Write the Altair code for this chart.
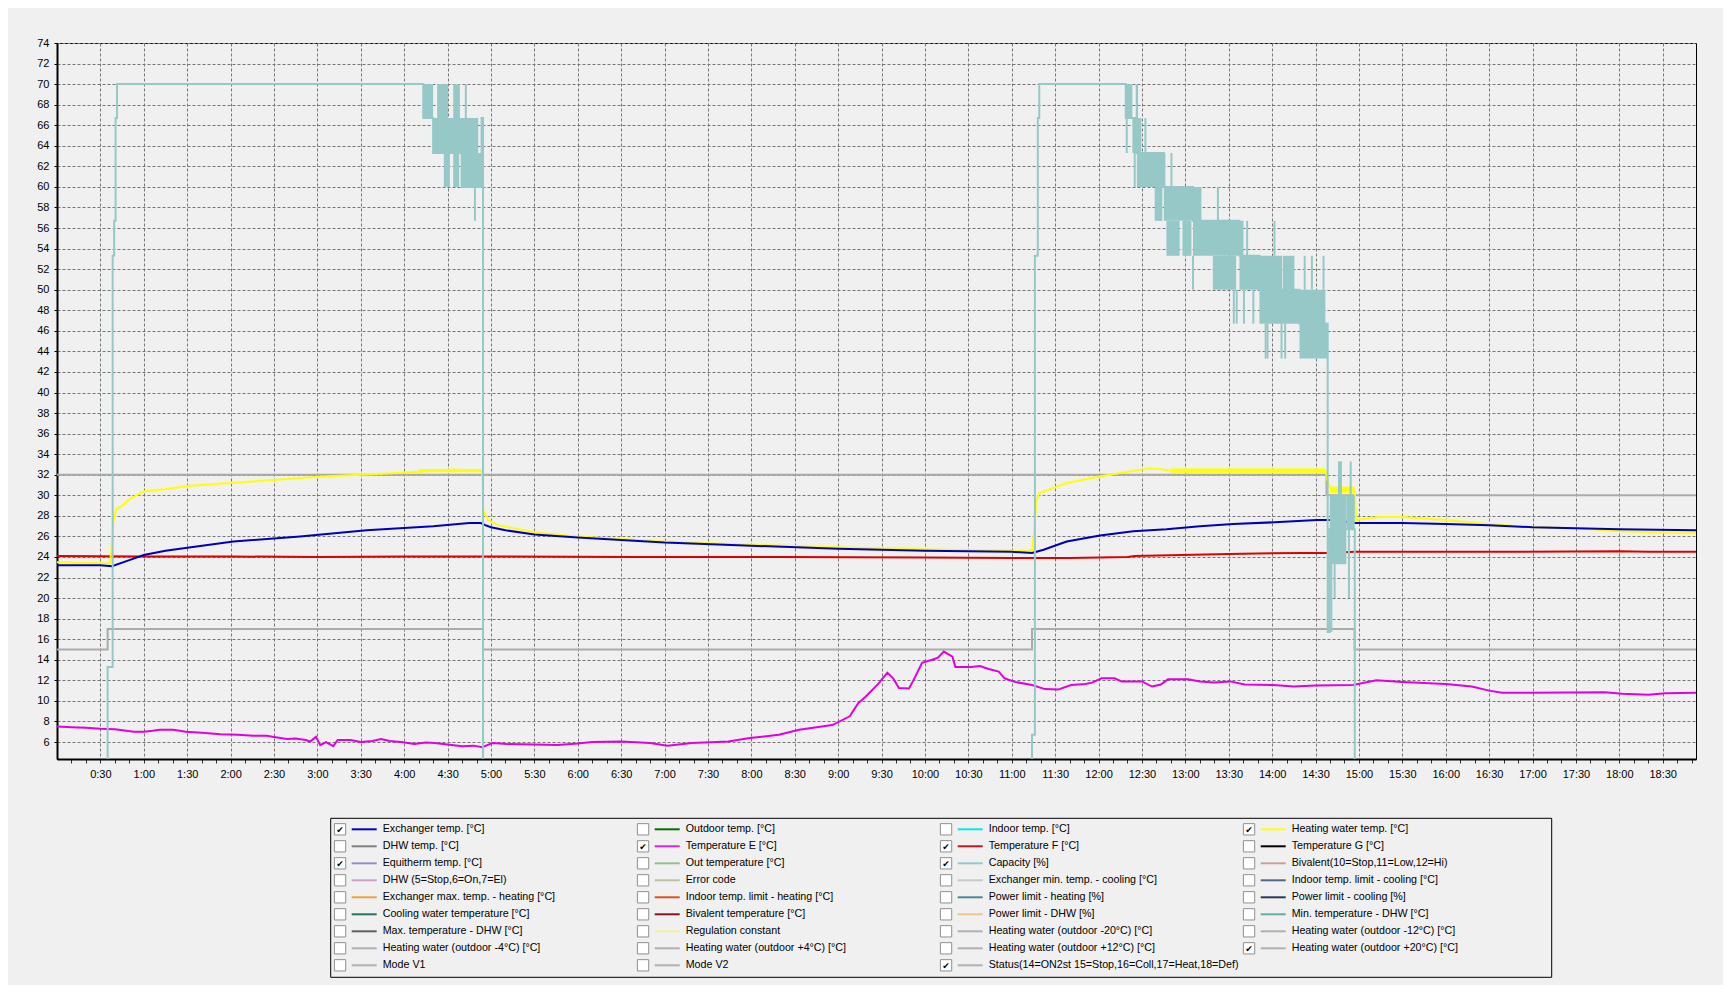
import altair as alt
import pandas as pd

# ---------------- data (time in minutes since 0:00) ----------------
# Exchanger temp. [°C]  (blue)
exch_t = [0, 30, 38, 50, 60, 75, 90, 122, 168, 214, 260, 285, 293, 296, 300, 310, 330, 360, 420, 480,
          540, 600, 660, 674, 682, 698, 721, 744, 767, 790, 813, 845, 871, 882, 897, 930, 960, 990,
          1020, 1050, 1080, 1133]
exch_v = [23.2, 23.2, 23.1, 23.7, 24.2, 24.6, 24.9, 25.5, 26.0, 26.6, 27.0, 27.3, 27.3, 27.1, 26.9, 26.6,
          26.2, 25.9, 25.4, 25.1, 24.8, 24.6, 24.5, 24.4, 24.7, 25.5, 26.1, 26.5, 26.7, 27.0, 27.2, 27.4,
          27.6, 27.6, 27.3, 27.3, 27.2, 27.1, 26.9, 26.8, 26.7, 26.6]

# Heating water temp. [°C]  (yellow)
heat_t = [0, 36.5, 37.5, 39, 41, 45, 50, 55, 60, 75, 90, 120, 150, 180, 210, 240, 260, 275, 285, 294,
          294.5, 298, 305, 330, 360, 420, 480, 540, 600, 660, 674, 675.5, 677, 679, 690, 698, 720, 740,
          755, 765, 770, 800, 840, 877, 878, 880, 885, 897, 898, 914, 930, 960, 990, 1020, 1050, 1080, 1133]
heat_v = [23.5, 23.4, 24.5, 27.5, 28.6, 29.0, 29.6, 30.0, 30.4, 30.6, 30.9, 31.2, 31.5, 31.8, 32.0, 32.2,
          32.4, 32.5, 32.4, 32.4, 28.6, 27.6, 27.1, 26.4, 26.0, 25.5, 25.2, 24.95, 24.75, 24.6, 24.6, 26.5,
          29.5, 30.2, 30.8, 31.2, 31.8, 32.3, 32.6, 32.5, 32.4, 32.4, 32.4, 32.4, 31.5, 30.8, 30.5, 30.5,
          27.6, 27.9, 27.9, 27.6, 27.2, 26.9, 26.8, 26.5, 26.3]
# noisy thick parts of the heating water trace: start, end, low, high
heat_band_t0 = [250, 770, 880]
heat_band_t1 = [294, 877, 897]
heat_band_lo = [32.25, 32.2, 30.25]
heat_band_hi = [32.55, 32.6, 30.85]

# Temperature F [°C]  (red)
tf_t = [0, 60, 120, 180, 240, 300, 400, 500, 600, 660, 700, 740, 745, 810, 860, 880, 897, 1000, 1080, 1100, 1133]
tf_v = [24.1, 24.05, 24.05, 24.0, 24.05, 24.05, 24.0, 24.0, 23.95, 23.9, 23.9, 24.0, 24.1, 24.3, 24.4,
        24.4, 24.5, 24.5, 24.55, 24.5, 24.5]

# Temperature E [°C]  (magenta)
te_t = [0, 10, 20, 30, 40, 48, 53, 60, 66, 71, 80, 85, 89, 100, 113, 125, 136, 145, 150, 159, 165, 172,
        175, 179, 182, 186, 191, 194, 203, 210, 218, 224, 230, 238, 247, 255, 261, 270, 280, 288, 294,
        301, 311, 330, 346, 360, 370, 390, 410, 422, 439, 464, 479, 499, 513, 536, 548, 554, 559, 568,
        574, 578, 582, 589, 592, 598, 605, 609, 613, 619, 621, 632, 638, 644, 651, 655, 662, 674, 683,
        692, 701, 711, 716, 722, 731, 736, 750, 757, 763, 768, 782, 790, 800, 811, 821, 841, 855, 870,
        896, 912, 930, 960, 978, 990, 999, 1020, 1070, 1082, 1100, 1112, 1133]
te_v = [7.5, 7.45, 7.4, 7.3, 7.25, 7.1, 7.0, 7.0, 7.1, 7.2, 7.2, 7.1, 7.0, 6.9, 6.75, 6.7, 6.6, 6.6, 6.5,
        6.3, 6.35, 6.2, 6.05, 6.5, 5.7, 6.0, 5.6, 6.2, 6.2, 6.0, 6.1, 6.3, 6.1, 6.0, 5.8, 5.95, 5.9, 5.75,
        5.6, 5.65, 5.5, 5.9, 5.8, 5.75, 5.7, 5.85, 6.0, 6.05, 5.9, 5.65, 5.9, 6.05, 6.4, 6.7, 7.2, 7.65,
        8.5, 9.8, 10.4, 11.7, 12.75, 12.2, 11.25, 11.2, 12.0, 13.7, 14.0, 14.2, 14.8, 14.3, 13.3, 13.3,
        13.4, 13.1, 12.85, 12.2, 11.85, 11.55, 11.15, 11.1, 11.55, 11.65, 11.8, 12.2, 12.2, 11.9, 11.9,
        11.4, 11.6, 12.1, 12.1, 11.9, 11.8, 11.9, 11.6, 11.55, 11.4, 11.5, 11.55, 12.0, 11.85, 11.65,
        11.4, 11.0, 10.8, 10.8, 10.85, 10.7, 10.6, 10.75, 10.8]

# Capacity [%]  (step trace + dense switching blocks + single spikes)
cap_t = [0, 35, 38.5, 39.5, 40.5, 41.5, 253.2, 260, 279.7, 293.5, 294.5, 674, 676, 678, 679, 738.8,
         746.5, 765.1, 785.3, 817.4, 831.2, 858.9, 878.4, 879.8, 897.1, 1133]
cap_v = [0, 13.3, 53.3, 56.7, 66.7, 70, 66.7, 63.3, 60, 66.7, 0, 6.7, 53.3, 66.7, 70, 66.7, 63.3, 60,
         56.7, 53.3, 50, 46.7, 16.7, 26.7, 0, 0]
cap_blk_t0 = [253.2, 262.8, 273.9, 260, 267.4, 273.9, 279.7, 738.8, 745.7, 743.4, 746.5, 758.8, 765.1,
              766.9, 778.0, 785.3, 799.0, 817.4, 847.4, 831.2, 858.9, 879.8, 891.3]
cap_blk_t1 = [260, 270.4, 278.5, 291.2, 271.6, 278, 293.5, 743.4, 747.3, 749.6, 766.2, 764.1, 791.1,
              776.1, 784.2, 820.2, 815.1, 846.9, 855.4, 876.8, 878.4, 891.3, 897.1]
cap_blk_lo = [66.7, 66.7, 66.7, 63.3, 60, 60, 60, 66.7, 66.7, 63.3, 60, 56.7, 56.7, 53.3, 53.3, 53.3,
              50, 50, 50, 46.7, 43.3, 23.3, 26.7]
cap_blk_hi = [70, 70, 70, 66.7, 63.3, 63.3, 63.3, 70, 70, 66.7, 63.3, 60, 60, 56.7, 56.7, 56.7, 53.3,
              53.3, 53.3, 50, 46.7, 30, 30]
cap_spk_t = [282.6, 288.9, 739.5, 745, 752.4, 770.4, 785.3, 802.5, 813.5, 815.5, 820.5, 822.7, 827,
             835.5, 836.8, 841.6, 846.5, 849, 862.5, 867.5, 875.5, 880.9, 883.2, 886.2, 887.5, 893.1, 894.3]
cap_spk_lo = [66.7, 56.7, 63.3, 60, 63.3, 60, 50, 56.7, 46.7, 46.7, 46.7, 53.3, 46.7, 43.3, 43.3, 53.3,
              43.3, 43.3, 50, 50, 50, 16.7, 20, 30, 30, 20, 30]
cap_spk_hi = [70, 60, 66.7, 63.3, 66.7, 63.3, 53.3, 60, 50, 50, 50, 56.7, 50, 46.7, 46.7, 56.7, 46.7,
              46.7, 53.3, 53.3, 53.3, 23.3, 23.3, 33.3, 33.3, 26.7, 33.3]

# Status(14=ON2st 15=Stop,16=Coll,17=Heat,18=Def)  (grey step)
stat_t = [0, 35, 294.5, 674, 897, 1133]
stat_v = [15, 17, 15, 17, 15, 15]
# Heating water (outdoor +20°C) [°C]  (grey step)
hw20_t = [0, 877.6, 1133]
hw20_v = [32, 30, 30]

# axis
y_ticks = [6, 8, 10, 12, 14, 16, 18, 20, 22, 24, 26, 28, 30, 32, 34, 36, 38, 40, 42, 44, 46, 48, 50,
           52, 54, 56, 58, 60, 62, 64, 66, 68, 70, 72, 74]
time_labels = ["0:30", "1:00", "1:30", "2:00", "2:30", "3:00", "3:30", "4:00", "4:30", "5:00", "5:30",
               "6:00", "6:30", "7:00", "7:30", "8:00", "8:30", "9:00", "9:30", "10:00", "10:30", "11:00",
               "11:30", "12:00", "12:30", "13:00", "13:30", "14:00", "14:30", "15:00", "15:30", "16:00",
               "16:30", "17:00", "17:30", "18:00", "18:30"]

# legend (column-major, 9 rows per column)
legend_labels = [
    "Exchanger temp. [°C]", "DHW temp. [°C]", "Equitherm temp. [°C]", "DHW (5=Stop,6=On,7=El)",
    "Exchanger max. temp. - heating [°C]", "Cooling water temperature [°C]", "Max. temperature - DHW [°C]",
    "Heating water (outdoor -4°C) [°C]", "Mode V1",
    "Outdoor temp. [°C]", "Temperature E [°C]", "Out temperature [°C]", "Error code",
    "Indoor temp. limit - heating [°C]", "Bivalent temperature [°C]", "Regulation constant",
    "Heating water (outdoor +4°C) [°C]", "Mode V2",
    "Indoor temp. [°C]", "Temperature F [°C]", "Capacity [%]", "Exchanger min. temp. - cooling [°C]",
    "Power limit - heating [%]", "Power limit - DHW [%]", "Heating water (outdoor -20°C) [°C]",
    "Heating water (outdoor +12°C) [°C]", "Status(14=ON2st 15=Stop,16=Coll,17=Heat,18=Def)",
    "Heating water temp. [°C]", "Temperature G [°C]", "Bivalent(10=Stop,11=Low,12=Hi)",
    "Indoor temp. limit - cooling [°C]", "Power limit - cooling [%]", "Min. temperature - DHW [°C]",
    "Heating water (outdoor -12°C) [°C]", "Heating water (outdoor +20°C) [°C]",
]
legend_colors = [
    "#0000c8", "#808080", "#9090c8", "#c8a0c8", "#f0a040", "#307060", "#606060", "#b0b0b0", "#b0b0b0",
    "#007000", "#e020e0", "#90c090", "#c0c0a0", "#e05020", "#801818", "#f0f0a0", "#b0b0b0", "#b0b0b0",
    "#00e8f0", "#c01818", "#96c8c8", "#c8c8c8", "#4a8898", "#e8c890", "#b0b0b0", "#b0b0b0", "#b0b0b0",
    "#ffff00", "#000000", "#c8a0a0", "#506888", "#283858", "#60b0a0", "#b0b0b0", "#b0b0b0",
]
legend_checked = [
    True, False, True, False, False, False, False, False, False,
    False, True, False, False, False, False, False, False, False,
    False, True, True, False, False, False, False, False, True,
    True, False, False, False, False, False, False, True,
]

# ---------------- chart ----------------
FONT = "Liberation Sans"
W, H = 1639, 716
XMAX = 1133

label_minutes = [int(s.split(":")[0]) * 60 + int(s.split(":")[1]) for s in time_labels]
minor_minutes = list(range(10, XMAX, 10))

xscale = alt.Scale(domain=[0, XMAX], nice=False, zero=False)
yscale = alt.Scale(domain=[4.35, 74], nice=False, zero=False)

is_major = "datum.value % 30 == 0"
xaxis = alt.Axis(
    values=minor_minutes,
    labelExpr="datum.value % 30 == 0 ? (floor(datum.value / 60) + ':' + (datum.value % 60 == 0 ? '00' : '30')) : ''",
    grid=True, gridDash=[3, 2], gridColor="#777777", gridWidth=1,
    gridOpacity={"condition": {"test": is_major, "value": 1}, "value": 0},
    domainColor="black", domainWidth=2, tickColor="#333333", tickSize=4, tickWidth=1,
    labelFont=FONT, labelFontSize=11, labelColor="black", labelPadding=5, labelOverlap=False,
    labelFlush=False, title=None,
)
yaxis = alt.Axis(
    values=y_ticks, grid=True, gridDash=[3, 2], gridColor="#777777", gridWidth=1,
    domainColor="black", domainWidth=2, tickColor="black", tickSize=3,
    labelFont=FONT, labelFontSize=11, labelColor="black", labelPadding=5, title=None,
)


def xy(df, xf="t", yf="v"):
    return dict(
        x=alt.X(f"{xf}:Q", scale=xscale, axis=xaxis, title=None),
        y=alt.Y(f"{yf}:Q", scale=yscale, axis=yaxis, title=None),
    )


def line(ts, vs, color, interp="linear", width=2):
    df = pd.DataFrame({"t": ts, "v": vs})
    return alt.Chart(df).mark_line(color=color, strokeWidth=width, interpolate=interp, clip=True).encode(**xy(df))


band_df = pd.DataFrame({"t0": heat_band_t0, "t1": heat_band_t1, "lo": heat_band_lo, "hi": heat_band_hi})
heat_band = alt.Chart(band_df).mark_rect(color="#ffff00", clip=True).encode(
    x=alt.X("t0:Q", scale=xscale, axis=xaxis, title=None), x2="t1",
    y=alt.Y("lo:Q", scale=yscale, axis=yaxis, title=None), y2="hi")

blk_df = pd.DataFrame({"t0": cap_blk_t0, "t1": cap_blk_t1, "lo": cap_blk_lo, "hi": cap_blk_hi})
cap_blocks = alt.Chart(blk_df).mark_rect(color="#96c8c8", clip=True).encode(
    x=alt.X("t0:Q", scale=xscale, axis=xaxis, title=None), x2="t1",
    y=alt.Y("lo:Q", scale=yscale, axis=yaxis, title=None), y2="hi")

spk_df = pd.DataFrame({"t": cap_spk_t, "lo": cap_spk_lo, "hi": cap_spk_hi})
cap_spikes = alt.Chart(spk_df).mark_rule(color="#96c8c8", strokeWidth=2, clip=True).encode(
    x=alt.X("t:Q", scale=xscale, axis=xaxis, title=None),
    y=alt.Y("lo:Q", scale=yscale, axis=yaxis, title=None), y2="hi")

main = alt.layer(
    line(hw20_t, hw20_v, "#aaaaaa", "step-after"),
    line(stat_t, stat_v, "#aaaaaa", "step-after"),
    line(tf_t, tf_v, "#dd0000"),
    line(te_t, te_v, "#e000e0"),
    heat_band,
    line(heat_t, heat_v, "#ffff00"),
    line(exch_t, exch_v, "#0000b8"),
    line(cap_t, cap_v, "#96c8c8", "step-after"),
    cap_blocks,
    cap_spikes,
)

# legend
n = len(legend_labels)
leg_df = pd.DataFrame({
    "label": legend_labels,
    "color": legend_colors,
    "checked": legend_checked,
    "col": [i // 9 for i in range(n)],
    "row": [i % 9 for i in range(n)],
})
lx = alt.X("col:Q", scale=alt.Scale(domain=[0, 3], range=[277.3, 1186.3], nice=False, zero=False), axis=None)
ly = alt.Y("row:Q", scale=alt.Scale(domain=[0, 8], range=[786.3, 922.3], nice=False, zero=False), axis=None)

leg_box = alt.Chart(pd.DataFrame({"k": [0]})).mark_rect(
    fillOpacity=0, stroke="black", strokeWidth=1, xOffset=-3.6, x2Offset=5.4, yOffset=-11, y2Offset=12
).encode(
    x=alt.X("k:Q", scale=alt.Scale(domain=[0, 3], range=[277.3, 1186.3], nice=False, zero=False), axis=None),
    x2=alt.datum(4),
    y=alt.Y("k:Q", scale=alt.Scale(domain=[0, 8], range=[786.3, 922.3], nice=False, zero=False), axis=None),
    y2=alt.datum(8),
)
leg_boxes = alt.Chart(leg_df).mark_square(
    size=128, filled=True, fill="white", stroke="#909090", strokeWidth=1, xOffset=5.75, opacity=1
).encode(x=lx, y=ly)
leg_checks = alt.Chart(leg_df).transform_filter("datum.checked").mark_text(
    text="✔", font="DejaVu Sans", fontSize=9, color="black", xOffset=5.75, yOffset=0.5
).encode(x=lx, y=ly)
leg_lines = alt.Chart(leg_df).mark_rule(strokeWidth=2, xOffset=17.4, x2Offset=42.4).encode(
    x=lx, x2="col:Q", y=ly, color=alt.Color("color:N", scale=None))
leg_text = alt.Chart(leg_df).mark_text(
    align="left", baseline="middle", font=FONT, fontSize=10.7, color="black", xOffset=48.4
).encode(x=lx, y=ly, text="label:N")

legend = alt.layer(leg_box, leg_boxes, leg_checks, leg_lines, leg_text)

chart = alt.layer(main, legend).resolve_scale(x="independent", y="independent").properties(
    width=W, height=H,
    padding={"left": 49, "top": 35, "right": 27, "bottom": 226},
    autosize=alt.AutoSizeParams(type="none"),
    background="#f0f0f0",
).configure_view(fill="#f0f0f0", stroke="black", strokeWidth=1)

chart.save("out.html", embed_options={"renderer": "svg", "actions": False})
